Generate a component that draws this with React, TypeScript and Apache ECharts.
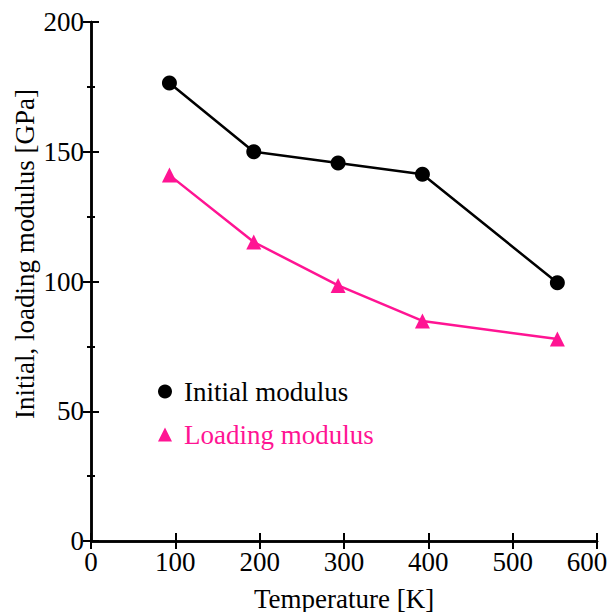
import React, { useEffect, useRef } from "react";
import * as echarts from "echarts";

const temperatures = [93, 193, 293, 393, 553];
const initialModulus = [176.5, 150, 145.7, 141.3, 99.5];
const loadingModulus = [141, 115.2, 98.5, 84.8, 77.8];
const xTicks = [0, 100, 200, 300, 400, 500, 600];
const yTicks = [0, 50, 100, 150, 200];

const PINK = "#ff1493";
const FONT = "Liberation Serif, Times New Roman, serif";

export default function App() {
  const ref = useRef<HTMLDivElement>(null);
  useEffect(() => {
    document.body.style.margin = "0";
    const chart = echarts.init(ref.current!, null, { renderer: "svg" });
    const axisLine = { show: true, lineStyle: { color: "#000", width: 2.5 } };
    const tick = { show: true, inside: true, length: 8, lineStyle: { color: "#000", width: 2 } };
    const minor = { show: true, splitNumber: 2, length: 4, lineStyle: { color: "#000", width: 2 } };
    const label = { color: "#000", fontFamily: FONT, fontSize: 27, margin: 7 };
    chart.setOption({
      animation: false,
      backgroundColor: "#fff",
      grid: { left: 91, right: 13, top: 22, bottom: 71, containLabel: false, outerBoundsMode: "none" },
      legend: {
        orient: "vertical",
        left: 153,
        top: 373,
        itemGap: 16,
        itemWidth: 14,
        itemHeight: 14,
        textStyle: { fontFamily: FONT, fontSize: 27, lineHeight: 26, color: "#000", padding: [0, 0, 0, 7] },
        data: [
          { name: "Initial modulus", icon: "circle" },
          { name: "Loading modulus", icon: "triangle", textStyle: { color: PINK } },
        ],
      },
      graphic: [
        {
          type: "text",
          x: 25,
          y: 254,
          rotation: Math.PI / 2,
          style: {
            text: "Initial, loading modulus [GPa]",
            fontFamily: FONT,
            fontSize: 27,
            fill: "#000",
            align: "center",
            verticalAlign: "middle",
          },
        },
      ],
      xAxis: [
        {
          type: "value",
          min: 0,
          max: 600,
          interval: 100,
          position: "bottom",
          axisLine,
          axisTick: tick,
          splitLine: { show: false },
          axisLabel: {
            ...label,
            formatter: (v: number) =>
              xTicks.includes(v) ? (v === 600 ? "{r|" + v + "}" : String(v)) : "",
            rich: { r: { fontFamily: FONT, fontSize: 27, color: "#000", padding: [0, 20, 0, 0] } },
          },
          name: "Temperature [K]",
          nameLocation: "middle",
          nameGap: 44,
          nameTextStyle: { fontFamily: FONT, fontSize: 27, color: "#000" },
        },
        {
          type: "value",
          min: 0,
          max: 600,
          interval: 100,
          position: "top",
          axisLine,
          axisTick: tick,
          splitLine: { show: false },
          axisLabel: { show: false },
        },
      ],
      yAxis: [
        {
          type: "value",
          min: 0,
          max: 200,
          interval: 50,
          position: "left",
          axisLine,
          axisTick: tick,
          minorTick: minor,
          splitLine: { show: false },
          axisLabel: { ...label, formatter: (v: number) => (yTicks.includes(v) ? String(v) : "") },
        },
        {
          type: "value",
          min: 0,
          max: 200,
          interval: 50,
          position: "right",
          axisLine,
          axisTick: tick,
          minorTick: minor,
          splitLine: { show: false },
          axisLabel: { show: false },
        },
      ],
      series: [
        {
          name: "Initial modulus",
          type: "line",
          data: temperatures.map((t, i) => [t, initialModulus[i]]),
          symbol: "circle",
          symbolSize: 15,
          itemStyle: { color: "#000" },
          lineStyle: { color: "#000", width: 2.5 },
        },
        {
          name: "Loading modulus",
          type: "line",
          data: temperatures.map((t, i) => [t, loadingModulus[i]]),
          symbol: "triangle",
          symbolSize: 15,
          itemStyle: { color: PINK },
          lineStyle: { color: PINK, width: 2.5 },
        },
      ],
    });
    return () => chart.dispose();
  }, []);
  return <div ref={ref} style={{ width: 610, height: 612 }} />;
}
